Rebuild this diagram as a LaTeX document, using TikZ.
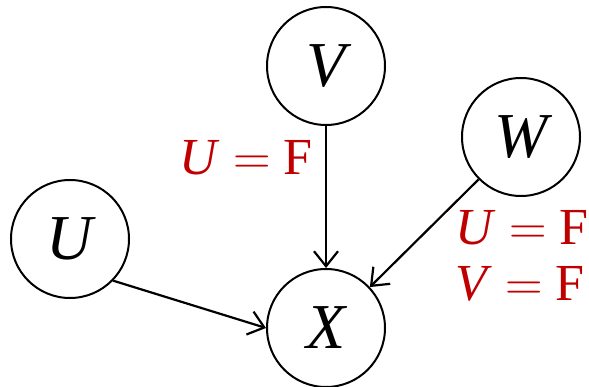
\documentclass[tikz,border=0pt]{standalone}
\usepackage{fontspec}
\setmainfont{Liberation Serif}
\newfontfamily\lmfont{Latin Modern Roman}
\usetikzlibrary{arrows.meta}
\definecolor{lbl}{RGB}{192,0,0}
\newcommand{\eqsign}{ {\lmfont =} }
\begin{document}
\begin{tikzpicture}[x=1pt,y=-1pt,
  var/.style={draw,circle,line width=2pt,minimum size=118pt,inner sep=0pt,font=\fontsize{64}{64}\selectfont\itshape},
  edge/.style={line width=2.2pt,-{Straight Barb[length=15pt,width=24pt,line width=2.2pt]}},
  cond/.style={text=lbl,font=\fontsize{52}{56}\selectfont,inner sep=0pt,align=left}]
\useasboundingbox (0,0) rectangle (589,387);
\node[var] (V) at (326,66) {V};
\node[var] (W) at (521,137) {W};
\node[var] (U) at (70,239) {U};
\node[var] (X) at (326,328) {X};
\draw[edge] (V) -- (X);
\draw[edge] (W.225) -- (X.43);
\draw[edge] (U.-44) -- (X.180);
\node[cond] (c1) at (246,158) {\textit{U}\eqsign F};
\node[cond] (c2) at (522,256) {\textit{U}\eqsign F\\\textit{V}\eqsign F};
\end{tikzpicture}
\end{document}
